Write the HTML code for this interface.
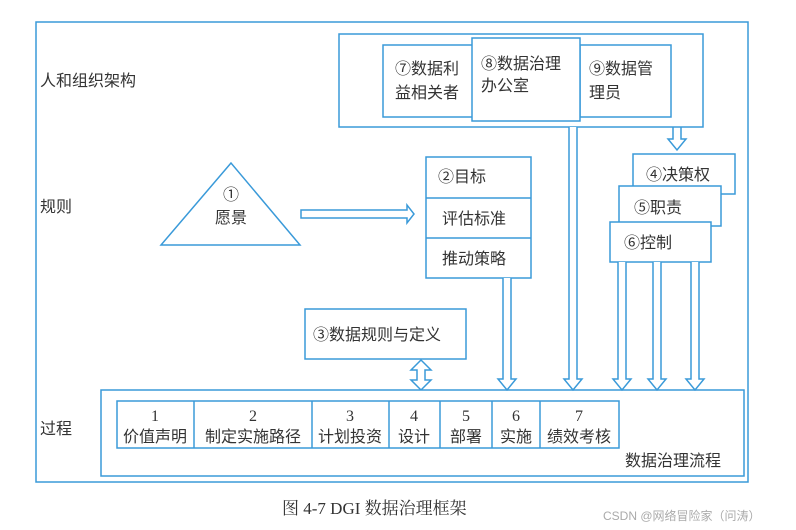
<!DOCTYPE html>
<html><head><meta charset="utf-8"><style>
html,body{margin:0;padding:0;background:#fff;}
svg{display:block;}
text{font-family:"Liberation Sans","Noto Sans CJK SC",sans-serif;fill:#333;}
.s{font-family:"Liberation Serif","Noto Serif CJK SC",serif;}
</style></head><body>
<svg width="796" height="530" viewBox="0 0 796 530" xmlns="http://www.w3.org/2000/svg">
<g fill="none" stroke="#3a9ad9" stroke-width="1.5">
<rect x="36" y="22" width="712" height="460"/>
<rect x="339" y="34" width="364" height="93"/>
<rect x="383" y="45" width="90" height="72" fill="#fff"/>
<rect x="580" y="45" width="91" height="72" fill="#fff"/>
<rect x="472" y="38" width="108" height="83" fill="#fff"/>
<polygon points="231,163 161,245 300,245"/>
<path d="M301,210 H407 V205 L414,214 L407,223 V218 H301 Z"/>
<rect x="426" y="157" width="105" height="121"/>
<line x1="426" y1="198" x2="531" y2="198"/>
<line x1="426" y1="238" x2="531" y2="238"/>
<rect x="633" y="154" width="102" height="40" fill="#fff"/>
<rect x="619" y="186" width="102" height="40" fill="#fff"/>
<rect x="610" y="222" width="101" height="40" fill="#fff"/>
<path d="M673,127 V139 H668 L677,150 L686,139 H681 V127"/>
<rect x="305" y="309" width="161" height="50"/>
<path d="M421,360 L411,370 H417 V380 H411 L421,390 L431,380 H425 V370 H431 Z"/>
<rect x="101" y="390" width="643" height="86" fill="#fff"/>
<rect x="117" y="401" width="502" height="47"/>
<line x1="194" y1="401" x2="194" y2="448"/>
<line x1="312" y1="401" x2="312" y2="448"/>
<line x1="389" y1="401" x2="389" y2="448"/>
<line x1="440" y1="401" x2="440" y2="448"/>
<line x1="492" y1="401" x2="492" y2="448"/>
<line x1="540" y1="401" x2="540" y2="448"/>
</g>
<g fill="#fff" stroke="#3a9ad9" stroke-width="1.5">
<path d="M503,278 V379 H498 L507,390 L516,379 H511 V278"/>
<path d="M569,127 V379 H564 L573,390 L582,379 H577 V127"/>
<path d="M618,262 V379 H613 L622,390 L631,379 H626 V262"/>
<path d="M653,262 V379 H648 L657,390 L666,379 H661 V262"/>
<path d="M691,262 V379 H686 L695,390 L704,379 H699 V262"/>
</g>
<g font-size="16">
<text x="40" y="86">人和组织架构</text>
<text x="40" y="212">规则</text>
<text x="40" y="434">过程</text>
<text x="395" y="74">⑦数据利</text><text x="395" y="98">益相关者</text>
<text x="481" y="69">⑧数据治理</text><text x="481" y="91">办公室</text>
<text x="589" y="74">⑨数据管</text><text x="589" y="98">理员</text>
<text x="231" y="200" text-anchor="middle">①</text>
<text x="231" y="223" text-anchor="middle">愿景</text>
<text x="438" y="182">②目标</text>
<text x="442" y="224">评估标准</text>
<text x="442" y="264">推动策略</text>
<text x="646" y="180">④决策权</text>
<text x="634" y="213">⑤职责</text>
<text x="624" y="248">⑥控制</text>
<text x="313" y="340">③数据规则与定义</text>
<text x="625" y="466">数据治理流程</text>
</g>
<g font-size="16" text-anchor="middle">
<text class="s" x="155" y="421">1</text><text x="155" y="442">价值声明</text>
<text class="s" x="253" y="421">2</text><text x="253" y="442">制定实施路径</text>
<text class="s" x="350" y="421">3</text><text x="350" y="442">计划投资</text>
<text class="s" x="414" y="421">4</text><text x="414" y="442">设计</text>
<text class="s" x="466" y="421">5</text><text x="466" y="442">部署</text>
<text class="s" x="516" y="421">6</text><text x="516" y="442">实施</text>
<text class="s" x="579" y="421">7</text><text x="579" y="442">绩效考核</text>
</g>
<text class="s" x="282" y="514" font-size="17">图 4-7   DGI 数据治理框架</text>
<text x="603" y="520" font-size="12" style="fill:#aaa">CSDN @网络冒险家（问涛）</text>
</svg>
</body></html>
